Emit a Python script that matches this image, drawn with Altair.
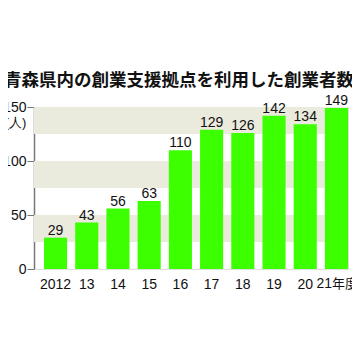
import altair as alt
import pandas as pd

years = ["2012", "13", "14", "15", "16", "17", "18", "19", "20", "21年度"]
values = [29, 43, 56, 63, 110, 129, 126, 142, 134, 149]
band_lo = [25, 75, 125]
band_hi = [50, 100, 150]
last_num = "21"
last_suffix = "年度"

df = pd.DataFrame({"year": years, "value": values})
bands = pd.DataFrame({"lo": band_lo, "hi": band_hi})

FONT = "Liberation Sans, Arial, sans-serif"
FS = 14

yscale = alt.Scale(domain=[0, 150], nice=False, zero=True)
xscale = alt.Scale(paddingInner=0.26, paddingOuter=0.16, align=1)

band_layer = alt.Chart(bands).mark_rect(color="#eaeadd").encode(
    x=alt.value(0), x2=alt.value(314),
    y=alt.Y("lo:Q", scale=yscale), y2="hi:Q",
)

bars = alt.Chart(df).mark_bar(color="#3cff00").encode(
    x=alt.X("year:N", sort=years, scale=xscale,
            axis=alt.Axis(title=None, domain=False, ticks=False, labelAngle=0,
                          labelExpr=f"datum.label == '{years[-1]}' ? '' : datum.label",
                          labelFont=FONT, labelFontSize=FS, labelColor="#111",
                          labelPadding=8)),
    y=alt.Y("value:Q", scale=yscale,
            axis=alt.Axis(title="(人)", titleAngle=0, titleX=-19, titleY=15,
                          titleAlign="center", titleBaseline="middle",
                          titleFont=FONT, titleFontSize=13, titleFontWeight="normal",
                          titleColor="#111",
                          values=[0, 25, 50, 75, 100, 125, 150],
                          labelExpr="datum.value % 50 == 0 ? datum.label : ''",
                          labelFont=FONT, labelFontSize=FS, labelColor="#111",
                          labelPadding=1, tickSize=7, tickColor="#777",
                          domainColor="#777", domainWidth=1.5, grid=False)),
)

labels = alt.Chart(df).mark_text(font=FONT, fontSize=FS, color="#111",
                                 baseline="alphabetic", dy=-3).encode(
    x=alt.X("year:N", sort=years, scale=xscale),
    y=alt.Y("value:Q", scale=yscale),
    text="value:Q",
)

last_df = pd.DataFrame({"num": [last_num], "suffix": [last_suffix]})
last_num_text = alt.Chart(last_df).mark_text(
    font=FONT, fontSize=FS, color="#111", align="right", baseline="alphabetic"
).encode(x=alt.value(298), y=alt.value(181), text="num:N")
last_suffix_text = alt.Chart(last_df).mark_text(
    font="Noto Sans CJK JP", fontSize=13, color="#111", align="left",
    baseline="alphabetic"
).encode(x=alt.value(298), y=alt.value(181), text="suffix:N")

chart = alt.layer(band_layer, bars, labels, last_num_text, last_suffix_text).properties(
    width=314, height=162,
    title=alt.Title("青森県内の創業支援拠点を利用した創業者数",
                    font="Noto Sans CJK JP", fontSize=17.5, fontWeight="bold",
                    color="#111", anchor="start", frame="group", dx=-30, offset=5),
    autosize=alt.AutoSizeParams(type="none"),
    padding={"left": 26, "top": 99, "right": 4, "bottom": 75},
).configure_view(stroke=None).configure(background="white")

chart.save("out.html", embed_options={"renderer": "svg", "actions": False})
